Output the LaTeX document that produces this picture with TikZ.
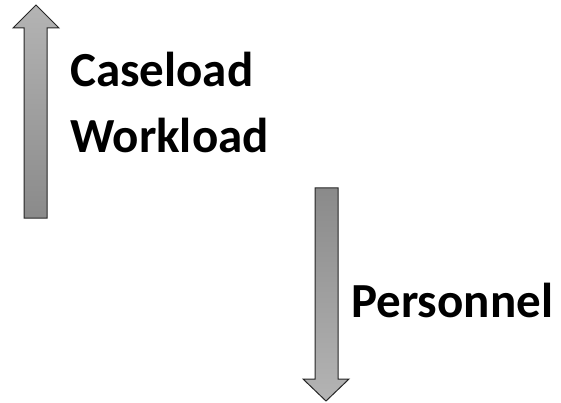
\documentclass[tikz,border=0pt]{standalone}
\usepackage{fontspec}
\setmainfont{Carlito}
\definecolor{lightg}{HTML}{B4B4B4}
\definecolor{darkg}{HTML}{8A8A8A}
\tikzset{
  arrowshape/.style={draw=black!85, line width=1pt, line join=miter},
  label/.style={anchor=base west, inner sep=0pt, font=\fontsize{49}{49}\selectfont\bfseries}
}
\begin{document}
\begin{tikzpicture}[x=1pt,y=-1pt]
\useasboundingbox (0,0) rectangle (561,403);
% up arrow
\shade[arrowshape, top color=lightg, bottom color=darkg]
  (36,5) -- (59,28) -- (47,28) -- (47,218) -- (24,218) -- (24,28) -- (13,28) -- cycle;
% down arrow
\shade[arrowshape, top color=darkg, bottom color=lightg]
  (315,188) -- (338,188) -- (338,379) -- (349,379) -- (326,401) -- (303,379) -- (315,379) -- cycle;
\node[label] (caseload) at (70,87) {Caseload};
\node[label] (workload) at (70,153) {Workload};
\node[label] (personnel) at (351,317) {Personnel};
\end{tikzpicture}
\end{document}
